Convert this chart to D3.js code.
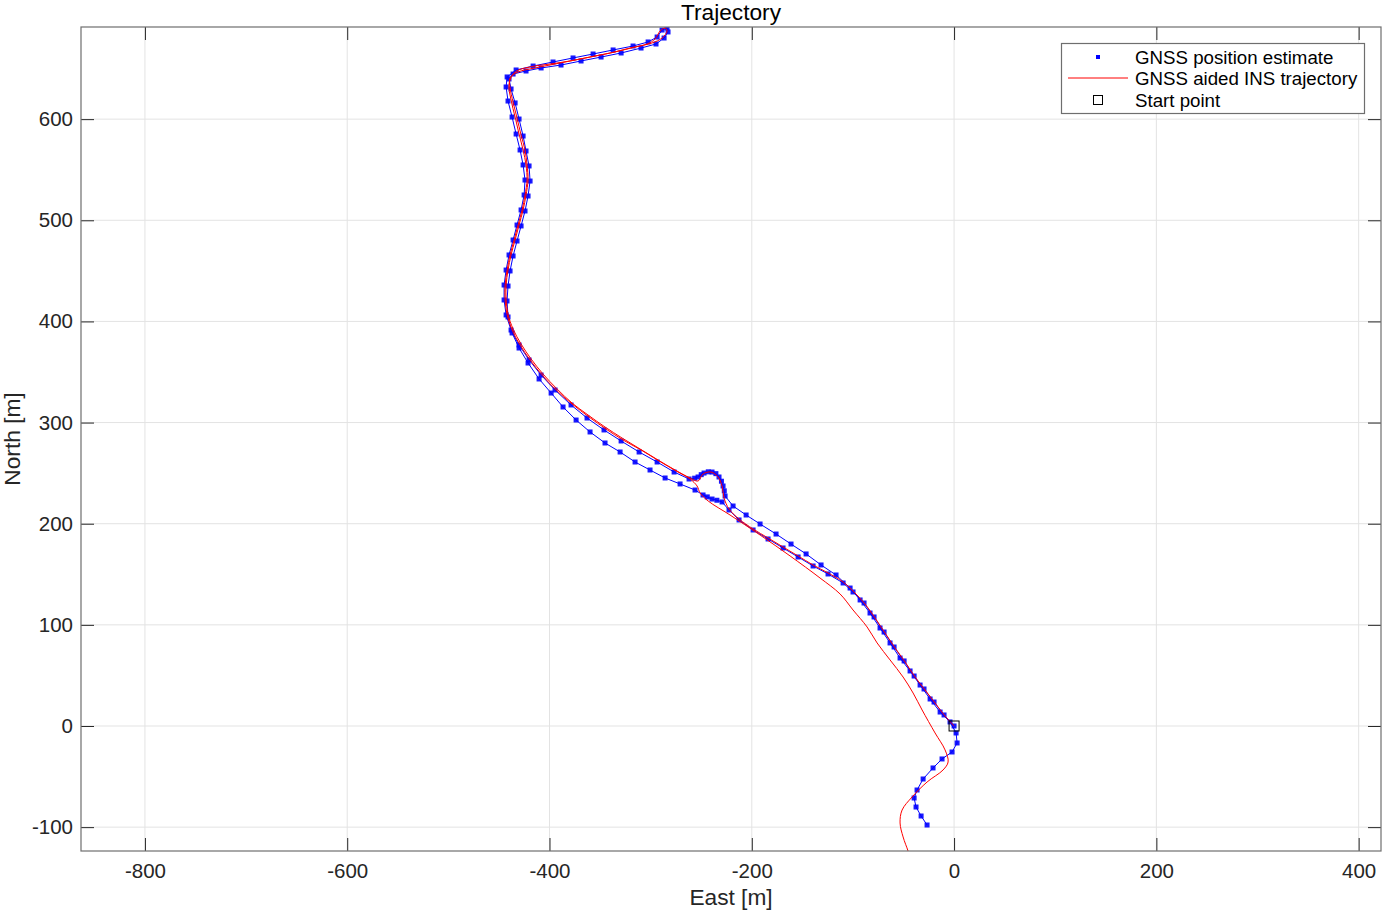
<!DOCTYPE html>
<html><head><meta charset="utf-8">
<script src="https://cdn.jsdelivr.net/npm/d3@7"></script>
<style>body{margin:0;background:#fff;} svg{display:block;font-family:"Liberation Sans",Arial,sans-serif;}</style>
</head><body><svg id="c" width="1385" height="912"></svg>
<script>
// GNSS position estimates (East, North) in metres
const gnssEast = [0,-9.9,-19.8,-29.7,-39.5,-49.4,-59.3,-69.2,-79.1,-89.0,-99.9,-109.7,-124.6,-139.4,-154.2,-169.1,-183.9,-198.7,-212.6,-222.5,-229.4,-234.5,-239.3,-244.0,-248.2,-256.1,-270.9,-285.7,-300.6,-315.4,-330.2,-345.1,-359.9,-373.7,-386.6,-398.4,-410.3,-421.2,-430.1,-437.0,-441.0,-442.0,-441.0,-439.0,-436.0,-432.1,-428.1,-424.2,-421.2,-419.2,-420.2,-423.2,-426.1,-430.1,-434.0,-438.0,-440.0,-436.0,-423.2,-408.3,-388.6,-368.8,-349.0,-329.2,-309.5,-294.7,-286.7,-282.8,-283.8,-288.7,-293.6,-302.5,-317.4,-337.1,-356.9,-376.7,-396.5,-416.2,-433.0,-441.9,-442.9,-441.0,-437.0,-433.0,-429.1,-426.1,-424.2,-425.1,-428.1,-432.1,-436.0,-440.0,-442.9,-444.9,-444.9,-442.9,-438.0,-430.1,-420.2,-408.3,-394.5,-378.7,-362.9,-346.1,-329.2,-311.4,-293.6,-276.8,-262.0,-256.5,-253.1,-250.0,-247.2,-243.0,-239.3,-235.5,-232.4,-230.0,-228.4,-227.2,-226.4,-218.5,-205.6,-191.8,-176.0,-161.2,-146.3,-131.5,-116.7,-102.8,-92.9,-83.1,-73.2,-63.3,-53.4,-43.5,-33.6,-23.7,-13.8,-4.0,2.0,3.0,-2.0,-11.9,-20.8,-30.6,-36.6,-39.5,-37.6,-32.6,-26.7];
const gnssNorth = [0,10.9,23.7,36.6,49.4,64.3,78.1,92.9,107.8,121.6,132.5,141.4,150.3,158.2,167.1,176.0,184.9,193.8,203.7,213.6,221.5,223.2,224.4,226.5,228.4,233.3,239.3,245.2,253.1,261.0,270.9,279.8,290.7,302.5,315.4,329.2,343.1,358.9,373.7,388.6,404.4,420.2,435.0,449.9,464.7,479.5,494.4,509.2,524.0,538.8,553.7,568.5,583.3,600.1,616.0,629.8,639.7,644.6,647.6,650.6,653.5,657.5,661.4,665.4,670.3,674.3,680.2,686.2,690.1,688.1,681.2,676.3,672.3,668.4,664.4,660.5,656.5,652.5,648.6,641.7,631.8,617.9,602.1,585.3,569.5,554.7,539.8,525.0,510.2,495.3,480.5,465.7,450.8,436.0,421.2,406.4,391.5,376.7,361.9,347.0,332.2,317.4,304.5,292.7,281.8,270.9,261.0,251.1,244.2,245.0,246.2,248.5,250.1,251.3,251.1,249.5,246.2,242.0,237.3,232.5,227.4,217.5,208.6,199.7,189.8,179.9,170.1,159.2,149.3,136.4,124.6,111.7,96.9,82.1,67.2,54.4,40.5,26.7,13.8,4.0,-6.9,-16.8,-25.7,-32.6,-41.5,-52.4,-63.3,-71.2,-80.1,-89.0,-97.9];
// GNSS aided INS trajectory (East, North) in metres
const insEast = [0,-8.9,-18.8,-28.7,-38.6,-48.4,-58.3,-68.2,-78.1,-88.0,-98.9,-109.7,-124.6,-139.4,-154.2,-169.1,-183.9,-198.7,-212.6,-222.5,-227.4,-229.4,-233.3,-240.3,-248.2,-253.1,-261.0,-275.8,-292.7,-310.5,-328.2,-345.1,-361.9,-377.7,-392.5,-406.4,-418.2,-428.1,-436.0,-441.0,-442.9,-442.9,-441.0,-438.0,-434.0,-430.1,-426.1,-423.2,-421.2,-422.2,-424.2,-428.1,-432.1,-436.0,-439.0,-439.0,-431.1,-414.3,-394.5,-374.7,-354.9,-335.2,-315.4,-298.6,-288.7,-283.8,-285.7,-290.7,-295.6,-303.5,-320.3,-340.1,-359.9,-379.7,-399.4,-419.2,-434.0,-440.0,-438.0,-434.0,-430.1,-426.1,-423.2,-422.2,-424.2,-427.1,-431.1,-435.0,-439.0,-441.9,-443.9,-443.9,-441.9,-437.0,-429.1,-419.2,-407.3,-393.5,-377.7,-360.9,-344.1,-327.3,-309.5,-291.7,-274.8,-261.0,-254.1,-251.1,-243.2,-221.5,-191.8,-162.1,-132.5,-112.7,-99.9,-86.0,-76.1,-63.3,-50.4,-40.5,-31.6,-18.8,-8.9,-5.9,-10.9,-26.7,-41.5,-51.4,-53.4,-50.4,-45.5,-43.5];
const insNorth = [0,9.9,22.7,35.6,48.4,63.3,77.1,91.9,106.8,120.6,132.5,142.4,151.3,159.2,168.1,177.0,185.9,194.8,204.7,214.5,225.4,237.3,246.2,251.1,249.2,242.2,245.2,253.1,263.0,273.9,284.7,295.6,307.5,319.3,333.2,348.0,362.9,377.7,392.5,407.3,422.2,436.0,450.8,465.7,480.5,495.3,510.2,525.0,539.8,554.7,569.5,584.3,601.1,616.9,630.8,640.7,646.6,650.6,654.5,658.5,662.4,666.4,671.3,675.3,680.2,687.1,690.1,687.1,679.2,674.3,670.3,665.4,661.4,657.5,654.5,651.6,646.6,634.8,618.9,602.1,585.3,569.5,554.7,539.8,525.0,510.2,495.3,480.5,465.7,450.8,436.0,421.2,406.4,391.5,376.7,361.9,347.0,332.2,318.4,305.5,293.6,282.8,272.9,262.0,252.1,244.2,237.3,230.4,222.5,208.6,188.8,168.1,146.3,130.5,114.7,97.9,82.1,65.3,48.4,32.6,15.8,-6.9,-23.7,-35.6,-43.5,-55.4,-70.2,-83.1,-95.9,-109.7,-123.6,-130.5];
const startPoint = [0, 0];
const xTicks = [-800,-600,-400,-200,0,200,400];
const yTicks = [-100,0,100,200,300,400,500,600];
const legendLabels = ["GNSS position estimate","GNSS aided INS trajectory","Start point"];

const svg = d3.select("#c");
const L=81, R=1381, T=27, B=851;
const x = d3.scaleLinear().domain([-863.2, 422.1]).range([L, R]);
const y = d3.scaleLinear().domain([-123.6, 691.1]).range([B, T]);
const ink = "#262626";
const fmt = d => String(d);

// grid
const g = svg.append("g");
g.selectAll(".gx").data(xTicks).join("line").attr("x1",d=>x(d)).attr("x2",d=>x(d)).attr("y1",T).attr("y2",B).attr("stroke","#e3e3e3");
g.selectAll(".gy").data(yTicks).join("line").attr("y1",d=>y(d)).attr("y2",d=>y(d)).attr("x1",L).attr("x2",R).attr("stroke","#e3e3e3");

// axes (ticks inside)
const tl = 13;
const axB = d3.axisBottom(x).tickValues(xTicks).tickFormat(fmt).tickSizeInner(-tl).tickSizeOuter(0).tickPadding(12);
const axT = d3.axisTop(x).tickValues(xTicks).tickSizeInner(-tl).tickSizeOuter(0).tickFormat("");
const axL = d3.axisLeft(y).tickValues(yTicks).tickFormat(fmt).tickSizeInner(-tl).tickSizeOuter(0).tickPadding(8);
const axR = d3.axisRight(y).tickValues(yTicks).tickSizeInner(-tl).tickSizeOuter(0).tickFormat("");
function style(sel){ sel.selectAll("path").remove(); sel.selectAll("line").attr("stroke",ink); sel.selectAll("text").attr("fill",ink).style("font-size","20.5px").style("font-family","'Liberation Sans',Arial,sans-serif"); }
svg.append("g").attr("transform",`translate(0,${B})`).call(axB).call(style);
svg.append("g").attr("transform",`translate(0,${T})`).call(axT).call(style);
svg.append("g").attr("transform",`translate(${L},0)`).call(axL).call(style);
svg.append("g").attr("transform",`translate(${R},0)`).call(axR).call(style);

// clip
svg.append("clipPath").attr("id","clip").append("rect").attr("x",L).attr("y",T).attr("width",R-L).attr("height",B-T);
const plot = svg.append("g").attr("clip-path","url(#clip)");

const gnss = gnssEast.map((e,i)=>[e,gnssNorth[i]]);
const ins = insEast.map((e,i)=>[e,insNorth[i]]);

plot.append("path").attr("d", d3.line().x(d=>x(d[0])).y(d=>y(d[1]))(gnss)).attr("fill","none").attr("stroke","#0000ff").attr("stroke-width",1);
plot.selectAll(".m").data(gnss).join("rect").attr("x",d=>x(d[0])-2.5).attr("y",d=>y(d[1])-2.5).attr("width",5).attr("height",5).attr("fill","#0000ff").attr("opacity",0.9);
plot.append("path").attr("d", d3.line().curve(d3.curveCatmullRom.alpha(0.5)).x(d=>x(d[0])).y(d=>y(d[1]))(ins)).attr("fill","none").attr("stroke","#ff0000").attr("stroke-width",1);
plot.append("rect").attr("x",x(startPoint[0])-5).attr("y",y(startPoint[1])-5).attr("width",10).attr("height",10).attr("fill","none").attr("stroke","#000").attr("stroke-width",1);

// box
svg.append("rect").attr("x",L).attr("y",T).attr("width",R-L).attr("height",B-T).attr("fill","none").attr("stroke","#6e6e6e").attr("stroke-width",1.2);

// labels
svg.append("text").attr("x",(L+R)/2).attr("y",20).attr("text-anchor","middle").attr("fill","#000").style("font-size","22.7px").text("Trajectory");
svg.append("text").attr("x",(L+R)/2).attr("y",905).attr("text-anchor","middle").attr("fill",ink).style("font-size","22.7px").text("East [m]");
svg.append("text").attr("transform",`translate(20,${(T+B)/2}) rotate(-90)`).attr("text-anchor","middle").attr("fill",ink).style("font-size","22.7px").text("North [m]");

// legend
const lg = svg.append("g");
lg.append("rect").attr("x",1061.5).attr("y",43.5).attr("width",303).attr("height",70).attr("fill","#fff").attr("stroke","#6e6e6e").attr("stroke-width",1.2);
const rows=[57,78,100];
lg.selectAll("text").data(legendLabels).join("text").attr("x",1135).attr("y",(d,i)=>rows[i]+6.5).attr("fill","#000").style("font-size","18.7px").text(d=>d);
lg.append("rect").attr("x",1096).attr("y",rows[0]-2).attr("width",4).attr("height",4).attr("fill","#0000ff");
lg.append("line").attr("x1",1068).attr("x2",1128).attr("y1",rows[1]).attr("y2",rows[1]).attr("stroke","#ff0000").attr("stroke-width",1);
lg.append("rect").attr("x",1093.5).attr("y",rows[2]-4.5).attr("width",9).attr("height",9).attr("fill","none").attr("stroke","#000");
</script></body></html>
